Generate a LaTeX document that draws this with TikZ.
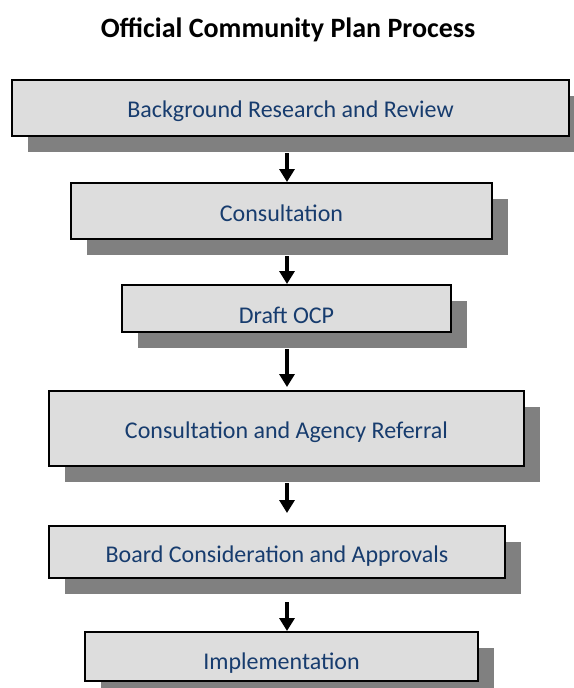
\documentclass[tikz,border=0pt]{standalone}
\usepackage{fontspec}
\setmainfont{Carlito}
\usepackage{xcolor}
\usetikzlibrary{arrows.meta, shadows, positioning, calc}

\definecolor{ocpblue}{RGB}{23,60,110}
\definecolor{boxgray}{RGB}{221,221,221}
\definecolor{shadowgray}{RGB}{128,128,128}

\begin{document}
\begin{tikzpicture}[
        x=1pt, y=-1pt,
        stage/.style={rectangle, draw=black, line width=2pt, fill=boxgray, text=ocpblue, inner sep=0pt, font=\fontsize{24}{28}\selectfont,
            text height=23pt, text depth=5pt,
            drop shadow={shadow xshift=16pt, shadow yshift=-16pt, fill=shadowgray, opacity=1}},
        arrow/.style={line width=3.5pt, -{Triangle[width=15pt,length=13pt]}}
    ]
    \useasboundingbox (0,0) rectangle (573,688);

    \node (title) at (288,30) {\fontsize{28}{32}\selectfont\bfseries Official Community Plan Process};

    \coordinate (spine) at (287,0);

    \node (research) [stage, minimum width=557pt, minimum height=56pt] at (290.5,108) {Background Research and Review};
    \node (consult) [stage, minimum width=421pt, minimum height=56pt, text height=25pt] at (281.5,211) {Consultation};
    \node (draft) [stage, minimum width=329pt, minimum height=47pt, text height=34pt] at (286.5,308.5) {Draft OCP};
    \node (referral) [stage, minimum width=475pt, minimum height=75pt, text height=24pt] at (286.5,428.5) {Consultation and Agency Referral};
    \node (board) [stage, minimum width=456pt, minimum height=52pt, text height=25pt] at (277,552) {Board Consideration and Approvals};
    \node (implement) [stage, minimum width=393pt, minimum height=49pt, text height=30pt] at (281.5,656.5) {Implementation};

    \draw [arrow] ([yshift=-16pt]research.south -| spine) -- (consult.north -| spine);
    \draw [arrow] ([yshift=-16pt]consult.south -| spine) -- (draft.north -| spine);
    \draw [arrow, shorten >=3pt] ([yshift=-16pt]draft.south -| spine) -- (referral.north -| spine);
    \draw [arrow, shorten >=12pt] ([yshift=-16pt]referral.south -| spine) -- (board.north -| spine);
    \draw [arrow, shorten <=7pt] ([yshift=-16pt]board.south -| spine) -- (implement.north -| spine);

\end{tikzpicture}
\end{document}
